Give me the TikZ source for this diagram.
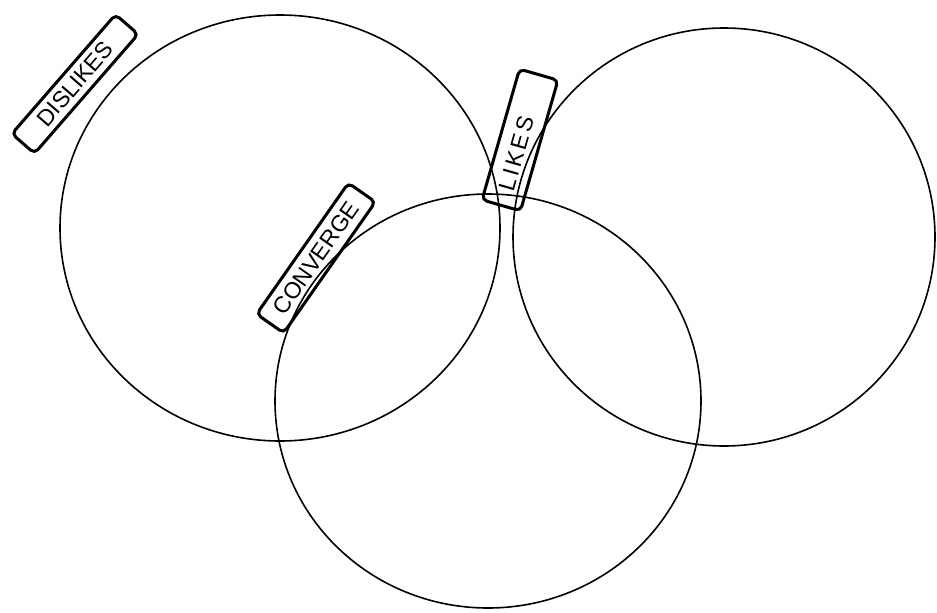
\documentclass[tikz,border=0pt]{standalone}
\usepackage{fontspec}
\setmainfont{Liberation Sans}
\begin{document}
\begin{tikzpicture}[x=1pt,y=-1pt,
  ring/.style={draw, line width=1.6pt},
  tag/.style={draw, line width=3pt, rounded corners=5pt, inner sep=0pt,
    font=\fontsize{23}{23}\selectfont}]
\useasboundingbox (0,0) rectangle (937,613);
\fill[white] (0,0) rectangle (937,613);
% circles
\draw[ring] (280,228) ellipse [x radius=220, y radius=213];
\draw[ring] (724,237) ellipse [x radius=211, y radius=209];
\draw[ring] (488,401) ellipse [x radius=213, y radius=207];
% labels
\node[tag, minimum width=158pt, minimum height=30pt, rotate=49] (dislikes) at (75,84) {DISLIKES};
\node[tag, minimum width=160pt, minimum height=33pt, rotate=55] (converge) at (316,258) {CONVERGE};
\node[tag, minimum width=136pt, minimum height=40pt, rotate=74, text width=124pt, align=left] (likes) at (520,140) {\hspace*{10pt}\addfontfeature{LetterSpace=12}LIKES};
\end{tikzpicture}
\end{document}
